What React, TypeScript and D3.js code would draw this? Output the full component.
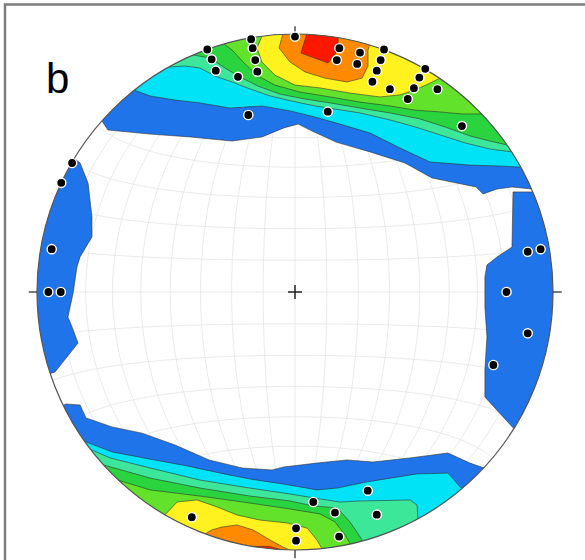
import React, { useEffect, useRef } from 'react';
import * as d3 from 'd3';

type Pt = [number, number];
type Side = 'up' | 'down' | 'left' | 'right';

// net units: primitive circle radius = 100, x east, y north (lower hemisphere, equal area)
const CX = 295;
const CY = 292;
const R = 258;

const levelColors = ['#1f74e9', '#00e3f6', '#3de79a', '#2ad43f', '#62e22a', '#fff21e', '#ff8a00', '#ff1800'];

const poles: Pt[] = [
  [0, 99], [-17, 98], [-16.4, 94.5], [-15.4, 89.9], [-14.6, 85.4], [-34, 94], [-32.3, 90.2], [-30.7, 85.8],
  [-22.1, 83.4], [17.2, 94.5], [16.2, 89.9], [25.2, 92.8], [24.1, 88.4], [34.5, 94], [33.2, 89.9], [31.7, 85.8],
  [30, 81.5], [36.8, 78.6], [50.5, 86.5], [48.2, 83.1], [46.1, 79], [43.7, 74.8], [55.2, 78.6], [-18.1, 68.6],
  [12.7, 69.9], [64.7, 64.3],
  [-86.4, 50], [-90.6, 42.3], [-94.3, 16.6], [-95.6, 0], [-90.8, 0],
  [90.2, 15.6], [95.2, 16.6], [82, 0], [90.2, -16], [76.9, -28.3],
  [-40, -87.3], [7.1, -81.4], [15.5, -85.5], [28.2, -77], [31.7, -86.3], [0.4, -91.6], [0.4, -96.4], [17.1, -94.8],
];

// contour boundaries (inner edge of each density level)
const top1: Pt[] = [[-75.6, 67.4], [-72.5, 62.8], [-56.2, 61.2], [-40.7, 60.1], [-24.4, 58.5], [-12.8, 60.1], [-4.3, 63.6], [1.2, 65.1], [6.6, 62.4], [15.9, 58.1], [29.1, 54.3], [42.6, 50], [53.1, 44.2], [70.2, 40.7], [72.9, 38], [78.3, 39.9], [84.1, 40.7], [91.9, 39.9]];
const left1: Pt[] = [[-85.7, 51.9], [-83.3, 50], [-80.2, 42.2], [-78.7, 29.1], [-78.7, 21.3], [-83.3, 13.6], [-84.5, 9.7], [-86, -0.4], [-88, -9.7], [-86.4, -13.6], [-84.1, -19.8], [-93, -31]];
const right1: Pt[] = [[92.2, 38.8], [84.5, 38.8], [84.1, 17.4], [78.3, 13.6], [74.4, 10.5], [73.6, 5.8], [73.6, -5.8], [74.4, -17.4], [73.6, -30.2], [73.6, -40.7], [85.3, -53.5]];
const bottom1: Pt[] = [[-88.8, -43.4], [-83.3, -43.8], [-81, -48.8], [-70.9, -52.3], [-59.3, -54.7], [-46.5, -59.3], [-33.3, -65.1], [-20.5, -68.2], [-8.9, -69], [-4.3, -67.8], [8.5, -66.3], [20.2, -65.1], [30.2, -65.9], [44.6, -64.3], [59.3, -62.4], [67.8, -66.3], [73.3, -68.2]];
const top2: Pt[] = [[-62.4, 78.3], [-56.2, 76], [-46.5, 74.4], [-36.8, 73.3], [-25.2, 71.3], [-12.8, 72.1], [-1.9, 70.2], [7.8, 67.8], [17.4, 65.1], [29.1, 61.6], [40.7, 55.8], [52.3, 50.4], [67.8, 49.2], [79.5, 48.8], [88, 48.4]];
const bottom2: Pt[] = [[-85.3, -55.8], [-81.8, -57.8], [-70.9, -62], [-56.6, -64.7], [-41.9, -67.4], [-27.5, -70.5], [-17.4, -72.5], [-4.7, -74.4], [8.5, -76.7], [16.3, -76], [27.9, -73.6], [47.3, -70.5], [59.3, -70.2], [64.7, -76.4]];
const top3: Pt[] = [[-49.2, 87.2], [-42.6, 87.6], [-36.8, 86.8], [-31, 83.7], [-24.4, 81.4], [-17.4, 78.7], [-9.7, 76], [-1.2, 74], [7.8, 72.1], [15.5, 70.9], [25.2, 69.4], [36.8, 66.7], [46.5, 64], [56.2, 60.9], [65.9, 57.8], [75.6, 55.4], [84.1, 54.3]];
const bottom3: Pt[] = [[-79.5, -60.9], [-71.7, -64.3], [-56.2, -68.2], [-36.8, -72.9], [-17.4, -76], [-1.9, -78.3], [9.7, -80.2], [17.4, -81.4], [25.2, -81], [44.6, -80.6], [47.3, -82.6], [47.7, -88.8]];
const top4: Pt[] = [[-39.5, 91.9], [-32.9, 90.7], [-27.1, 86.8], [-21.3, 83.3], [-14.3, 79.8], [-5.8, 76.7], [3.9, 74.8], [13.6, 73.3], [25.2, 71.3], [36.8, 69.4], [48.4, 67.1], [58.1, 64], [67.8, 60.5], [75.6, 58.5], [82.2, 57]];
const bottom4: Pt[] = [[-74, -67.1], [-56.2, -72.1], [-36.8, -76], [-17.4, -79.1], [-1.9, -81], [7, -82.9], [16.3, -83.7], [21.3, -89.1], [26, -96.1]];
const top5: Pt[] = [[-27.5, 96.1], [-24.4, 93.8], [-19.4, 88.4], [-14.3, 83.7], [-7.8, 80.2], [1.9, 77.5], [13.6, 75.6], [25.2, 73.6], [36.8, 72.1], [46.5, 70.5], [56.2, 69.8], [64.7, 69], [72.5, 69]];
const bottom5: Pt[] = [[-68.6, -72.9], [-56.2, -76.7], [-36.8, -79.1], [-17.4, -81.8], [-1.9, -84.1], [9.7, -86], [15.5, -89.1], [19.4, -94.2], [21.3, -97.3]];
const top6: Pt[] = [[-12.8, 99.2], [-14.7, 94.6], [-12.8, 89.1], [-7.8, 84.1], [0, 80.2], [9.7, 79.1], [21.3, 77.1], [32.9, 75.6], [40.7, 76.4], [46.5, 78.3], [51.6, 80.6], [56.2, 82.9]];
const bottom6: Pt[] = [[-50.4, -86.4], [-45.7, -81.4], [-38, -80.6], [-30.2, -83.3], [-22.5, -86.4], [-13.6, -88.4], [-3.1, -89.5], [4.7, -91.5], [8.5, -96.1], [10.5, -99.6]];
const top7: Pt[] = [[-4.7, 100], [-6.2, 94.6], [-1.9, 89.1], [3.9, 85.3], [11.6, 82.9], [20.2, 81.4], [26, 82.9], [28.3, 87.6], [28.3, 93.8], [29.8, 98.4]];
const bottom7: Pt[] = [[-34.9, -93.8], [-32.2, -92.2], [-28.3, -91.1], [-22.5, -90.3], [-16.3, -92.2], [-9.7, -96.1], [-4.7, -98.8], [-1.2, -100.4]];
const top8: Pt[] = [[4.3, 99.2], [2.3, 92.6], [12.8, 88.8], [16.7, 93.8], [16.7, 99.2]];
const bottom8: Pt[] = [[-18, -98.6], [-10, -98.6], [-3, -100.5]];

const bands: { level: number; side: Side; pts: Pt[] }[] = [
  { level: 0, side: 'up', pts: top1 },
  { level: 0, side: 'left', pts: left1 },
  { level: 0, side: 'right', pts: right1 },
  { level: 0, side: 'down', pts: bottom1 },
  { level: 1, side: 'up', pts: top2 },
  { level: 1, side: 'down', pts: bottom2 },
  { level: 2, side: 'up', pts: top3 },
  { level: 2, side: 'down', pts: bottom3 },
  { level: 3, side: 'up', pts: top4 },
  { level: 3, side: 'down', pts: bottom4 },
  { level: 4, side: 'up', pts: top5 },
  { level: 4, side: 'down', pts: bottom5 },
  { level: 5, side: 'up', pts: top6 },
  { level: 5, side: 'down', pts: bottom6 },
  { level: 6, side: 'up', pts: top7 },
  { level: 6, side: 'down', pts: bottom7 },
  { level: 7, side: 'up', pts: top8 },
  { level: 7, side: 'down', pts: bottom8 },
];

const gridStep = 10;

export default function App() {
  const svgRef = useRef<SVGSVGElement>(null);

  useEffect(() => {
    const svg = d3.select(svgRef.current);
    svg.selectAll('*').remove();

    const sx = d3.scaleLinear().domain([-100, 100]).range([CX - R, CX + R]);
    const sy = d3.scaleLinear().domain([-100, 100]).range([CY + R, CY - R]);

    // frame
    svg.append('path')
      .attr('d', `M5,570V4.5H590`)
      .attr('fill', 'none')
      .attr('stroke', '#7d7d7d')
      .attr('stroke-width', 2.5);

    svg.append('defs').append('clipPath').attr('id', 'net')
      .append('circle').attr('cx', CX).attr('cy', CY).attr('r', R);

    const net = svg.append('g').attr('clip-path', 'url(#net)');

    // Schmidt net grid
    const proj = d3.geoAzimuthalEqualArea()
      .rotate([0, 0])
      .scale(R / Math.SQRT2)
      .translate([CX, CY]);
    const geo = d3.geoPath(proj);
    const lines: any[] = [];
    d3.range(-90 + gridStep, 90, gridStep).forEach((lon) => {
      lines.push({ type: 'LineString', coordinates: d3.range(-90, 90.001, 1).map((lat) => [lon, lat]) });
    });
    d3.range(-90 + gridStep, 90, gridStep).forEach((lat) => {
      lines.push({ type: 'LineString', coordinates: d3.range(-90, 90.001, 1).map((lon) => [lon, lat]) });
    });
    net.append('g').selectAll('path').data(lines).enter().append('path')
      .attr('d', (d) => geo(d))
      .attr('fill', 'none')
      .attr('stroke', '#e5e5e5')
      .attr('stroke-width', 0.8);

    // density contours
    const line = d3.line();
    const bandPath = (side: Side, pts: Pt[]) => {
      const p: Pt[] = pts.map(([x, y]) => [sx(x), sy(y)]);
      const push = (q: Pt): Pt => {
        const dx = q[0] - CX;
        const dy = q[1] - CY;
        const r = Math.hypot(dx, dy);
        const k = Math.max(r, R * 1.03) / r;
        return [CX + dx * k, CY + dy * k];
      };
      const far = 2 * R;
      const ext = (q: Pt): Pt =>
        side === 'up' ? [q[0], CY - far]
          : side === 'down' ? [q[0], CY + far]
            : side === 'left' ? [CX - far, q[1]] : [CX + far, q[1]];
      const a = push(p[0]);
      const b = push(p[p.length - 1]);
      return line([ext(a), a, ...p, b, ext(b)]) + 'Z';
    };

    net.append('g').selectAll('path').data(bands).enter().append('path')
      .attr('d', (d) => bandPath(d.side, d.pts))
      .attr('fill', (d) => levelColors[d.level])
      .attr('stroke', '#2b2b2b')
      .attr('stroke-opacity', 0.7)
      .attr('stroke-width', 0.8)
      .attr('stroke-linejoin', 'round');

    // primitive circle and ticks
    svg.append('circle')
      .attr('cx', CX).attr('cy', CY).attr('r', R)
      .attr('fill', 'none')
      .attr('stroke', '#555')
      .attr('stroke-width', 1.2);

    const ticks = [
      [0, 100, 0, 103],
      [0, -100, 0, -103.2],
      [-100, 0, -103.2, 0],
      [100, 0, 103.4, 0],
    ];
    svg.append('g').selectAll('line').data(ticks).enter().append('line')
      .attr('x1', (d) => sx(d[0])).attr('y1', (d) => sy(d[1]))
      .attr('x2', (d) => sx(d[2])).attr('y2', (d) => sy(d[3]))
      .attr('stroke', '#333')
      .attr('stroke-width', 1.3);

    // centre cross
    const c = svg.append('g').attr('stroke', '#222').attr('stroke-width', 1.5);
    c.append('line').attr('x1', sx(0) - 7).attr('x2', sx(0) + 7).attr('y1', sy(0)).attr('y2', sy(0));
    c.append('line').attr('x1', sx(0)).attr('x2', sx(0)).attr('y1', sy(0) - 7).attr('y2', sy(0) + 7);

    // poles
    svg.append('g').selectAll('circle').data(poles).enter().append('circle')
      .attr('cx', (d) => sx(d[0]))
      .attr('cy', (d) => sy(d[1]))
      .attr('r', 4.6)
      .attr('fill', '#000')
      .attr('stroke', '#fff')
      .attr('stroke-width', 1.4);

    svg.append('text')
      .attr('x', 46)
      .attr('y', 93)
      .attr('font-family', 'Liberation Sans, Arial, sans-serif')
      .attr('font-size', 42)
      .attr('fill', '#000')
      .text('b');
  }, []);

  return (
    <svg
      ref={svgRef}
      width={585}
      height={560}
      style={{ position: 'absolute', left: 0, top: 0, background: '#fff' }}
    />
  );
}
